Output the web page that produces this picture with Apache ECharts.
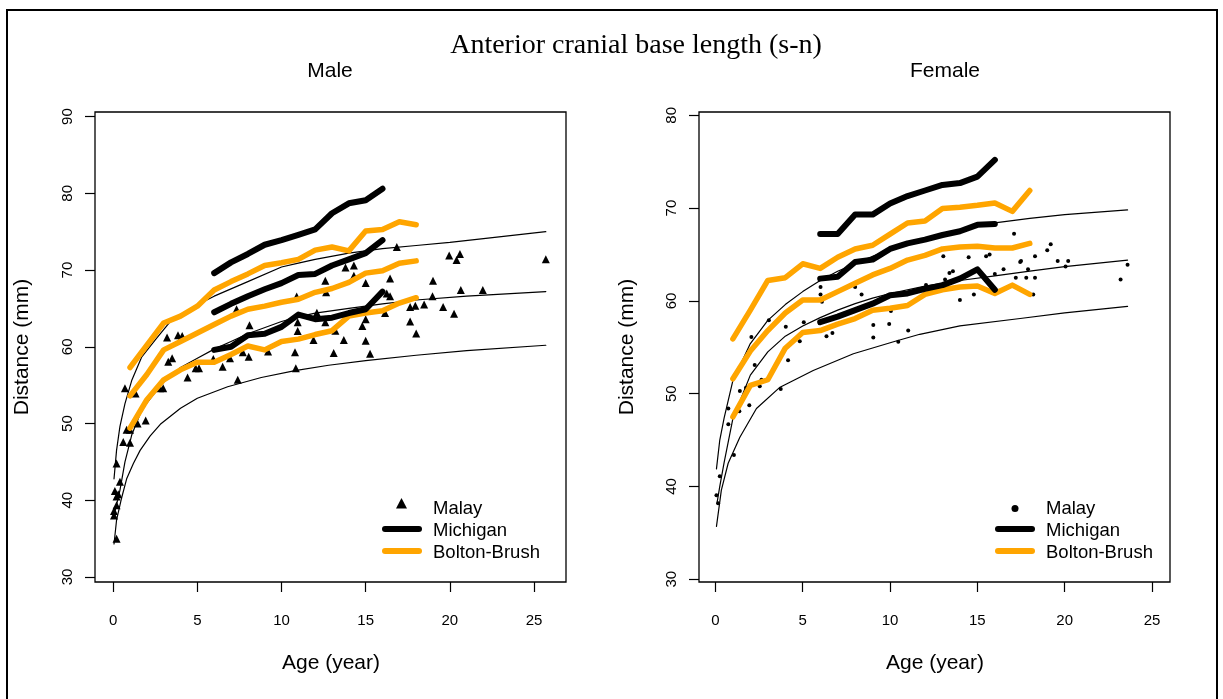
<!DOCTYPE html>
<html>
<head>
<meta charset="utf-8">
<script src="https://cdn.jsdelivr.net/npm/echarts@6/dist/echarts.min.js"></script>
<style>
html, body { margin: 0; padding: 0; background: #fff; }
#main { width: 1223px; height: 699px; }
</style>
</head>
<body>
<div id="main"></div>
<script>
// ---- data ----
var tickX = [0, 5, 10, 15, 20, 25];
var tickYMale = [30, 40, 50, 60, 70, 80, 90];
var tickYFemale = [30, 40, 50, 60, 70, 80];

var michAges = [6, 7, 8, 9, 10, 11, 12, 13, 14, 15, 16];
var boltonAges = [1, 2, 3, 4, 5, 6, 7, 8, 9, 10, 11, 12, 13, 14, 15, 16, 17, 18];

// male
var maleMichHigh = [69.6, 71.0, 72.1, 73.3, 73.9, 74.6, 75.3, 77.4, 78.7, 79.1, 80.6];
var maleMichMid  = [64.5, 65.6, 66.6, 67.5, 68.3, 69.35, 69.5, 70.6, 71.4, 72.2, 73.9];
var maleMichLow  = [59.6, 60.0, 61.5, 61.7, 62.6, 64.2, 63.6, 63.8, 64.4, 64.9, 67.2];
var maleBoltonHigh = [57.3, 60.2, 63.1, 64.0, 65.3, 67.4, 68.5, 69.5, 70.6, 70.95, 71.4, 72.6, 73.0, 72.5, 75.1, 75.3, 76.3, 75.9];
var maleBoltonMid  = [53.6, 56.4, 59.6, 60.7, 61.8, 62.9, 64.0, 64.9, 65.3, 65.8, 66.2, 67.1, 67.6, 68.4, 69.6, 69.9, 70.9, 71.2];
var maleBoltonLow  = [49.4, 53.1, 55.7, 57.0, 58.0, 58.0, 59.0, 60.1, 59.6, 60.7, 61.0, 61.6, 62.1, 64.0, 64.4, 64.7, 65.7, 66.4];

var maleFitTopAge = [0.05, 0.2, 0.4, 0.7, 1.1, 1.7, 2.5, 3.4, 5, 6, 8, 10, 11, 12, 14, 16, 18, 20, 22, 25.7];
var maleFitTop    = [42.8, 46.5, 49.6, 52.6, 55.6, 58.7, 60.9, 63.3, 65.5, 66.6, 68.5, 70.4, 70.9, 71.4, 72.2, 72.8, 73.2, 73.6, 74.1, 75.0];
var maleFitMidAge = [0.05, 0.4, 0.7, 1.1, 1.7, 2.9, 4, 5, 6, 7, 8, 10, 11, 12, 14, 16, 18, 21, 25.7];
var maleFitMid    = [38.0, 41.3, 45.0, 48.5, 51.8, 55.2, 57.3, 58.5, 59.7, 60.7, 61.7, 63.3, 63.9, 64.4, 65.0, 65.6, 66.1, 66.6, 67.2];
var maleFitLowAge = [0.05, 0.2, 0.5, 0.8, 1.2, 1.6, 2.2, 2.8, 4, 5, 6.8, 8.8, 10.8, 12.8, 15, 18, 21, 25.7];
var maleFitLow    = [34.3, 37.4, 40.3, 42.8, 44.8, 46.5, 48.4, 49.9, 52.0, 53.3, 54.8, 56.0, 56.9, 57.6, 58.2, 58.9, 59.5, 60.2];

var maleMalayAge = [0.05, 0.05, 0.1, 0.3, 0.2, 0.2, 0.2, 0.4, 0.2, 0.6, 1.0, 0.8, 1.0, 0.7, 1.33, 1.45, 1.93, 2.78, 2.97,
  3.27, 3.5, 3.2, 3.85, 4.1, 4.42, 4.9, 5.1, 5.95, 6.5, 6.94, 7.4, 7.7, 8.05, 7.33, 8.1, 9.2, 10.8, 10.85, 10.9, 10.96,
  10.96, 11.9, 12.1, 12.6, 12.65, 12.6, 13.2, 13.1, 13.7, 13.8, 14.3, 14.3, 16.85, 15.0, 16.45, 16.25, 16.45, 15.0, 14.8,
  15.0, 15.26, 16.15, 17.64, 18.0, 17.64, 17.95, 18.47, 18.97, 19.0, 19.6, 20.25, 19.96, 20.4, 20.6, 20.65, 21.96, 25.7];
var maleMalayDist = [38.6, 38.0, 41.2, 40.8, 40.5, 39.35, 44.8, 42.4, 35.0, 47.6, 47.5, 49.2, 49.2, 54.6, 53.9, 50.0, 50.4, 54.6, 54.6,
  58.05, 58.5, 61.2, 61.5, 61.4, 56.0, 57.2, 57.2, 58.4, 57.4, 58.5, 55.7, 59.3, 58.7, 64.9, 62.8, 59.4, 59.3, 57.2, 66.55, 63.2,
  62.05, 60.9, 64.45, 63.2, 67.1, 68.6, 62.1, 59.2, 60.9, 70.35, 70.6, 69.25, 73.0, 68.3, 68.9, 66.95, 66.6, 63.6, 62.7,
  60.8, 59.1, 64.4, 63.3, 61.75, 65.2, 65.35, 65.5, 66.6, 68.6, 65.2, 64.3, 71.9, 71.3, 72.1, 67.4, 67.4, 71.4];

// female
var femMichHigh = [67.2, 67.2, 69.3, 69.3, 70.5, 71.3, 71.9, 72.5, 72.7, 73.4, 75.2];
var femMichMid  = [62.4, 62.6, 64.2, 64.45, 65.6, 66.2, 66.6, 67.1, 67.5, 68.2, 68.3];
var femMichLow  = [57.7, 58.3, 59.0, 59.7, 60.6, 60.8, 61.3, 61.7, 62.4, 63.4, 61.2];
var femBoltonHigh = [55.9, 59.0, 62.2, 62.5, 64.0, 63.5, 64.7, 65.6, 66.0, 67.2, 68.4, 68.6, 69.95, 70.1, 70.3, 70.55, 69.65, 71.9];
var femBoltonMid  = [51.6, 54.6, 56.8, 58.7, 60.1, 60.1, 61.0, 61.9, 62.8, 63.5, 64.4, 64.9, 65.6, 65.8, 65.9, 65.7, 65.7, 66.2];
var femBoltonLow  = [47.5, 50.9, 51.5, 54.9, 56.6, 56.8, 57.5, 58.1, 59.0, 59.2, 59.5, 60.7, 61.2, 61.5, 61.6, 60.8, 61.7, 60.7];

var femFitTopAge = [0.06, 0.25, 0.5, 1, 2, 3, 4, 5, 6, 7, 8, 9, 10, 11, 12, 14, 16, 18, 20, 23.6];
var femFitTop    = [41.9, 45.0, 47.4, 51.4, 55.4, 57.9, 59.6, 61.0, 62.2, 63.2, 64.0, 64.8, 65.5, 66.1, 66.7, 67.6, 68.4, 68.9, 69.3, 69.8];
var femFitMidAge = [0.1, 0.25, 0.5, 1, 2, 3, 4, 5, 6, 7, 8, 9, 10, 12, 14, 16, 18, 20, 23.6];
var femFitMid    = [38.3, 40.0, 42.6, 47.3, 52.0, 54.5, 56.2, 57.3, 58.2, 59.0, 59.7, 60.3, 60.8, 61.6, 62.2, 62.7, 63.2, 63.7, 64.4];
var femFitLowAge = [0.06, 0.34, 0.73, 1.4, 2.35, 3.7, 5.6, 7.9, 10.2, 11.7, 14, 17.45, 20, 23.6];
var femFitLow    = [35.7, 39.6, 42.5, 45.3, 48.4, 50.7, 52.5, 54.3, 55.6, 56.4, 57.3, 58.1, 58.7, 59.4];

var femMalayAge = [0.06, 0.15, 0.25, 0.74, 0.74, 1.06, 1.4, 1.37, 1.75, 1.94, 2.25, 2.54, 2.64, 3.74, 4.16, 4.83, 10.47,
  2.06, 3.06, 4.03, 5.06, 6.02, 6.02, 6.1, 6.36, 6.7, 8.0, 8.37, 9.04, 9.04, 9.95, 10.05, 11.04, 12.06, 13.05, 13.15,
  13.4, 13.6, 14.0, 14.5, 14.8, 15.5, 15.7, 16.0, 16.5, 17.1, 17.2, 17.45, 17.5, 17.8, 17.9, 18.3, 18.3, 18.2, 19.0,
  19.2, 19.6, 20.05, 20.2, 23.2, 23.6];
var femMalayDist = [39.05, 38.2, 41.1, 48.4, 46.7, 43.4, 50.3, 48.1, 50.65, 48.75, 53.1, 50.8, 51.5, 50.5, 53.6, 55.65, 55.6,
  56.1, 57.9, 57.2, 57.7, 61.5, 60.7, 59.9, 56.2, 56.55, 61.5, 60.7, 57.4, 56.05, 57.5, 58.9, 56.8, 61.7, 64.8, 62.3,
  63.0, 63.2, 60.1, 64.7, 60.7, 64.8, 65.0, 62.9, 63.4, 67.25, 62.5, 64.2, 64.3, 62.5, 63.4, 64.8, 62.5, 60.7, 65.45,
  66.1, 64.3, 63.7, 64.3, 62.3, 63.9];

// ---- chart ----
var SANS = '"Liberation Sans", Arial, Helvetica, sans-serif';
var ORANGE = '#FFA500';

function pairs(xs, ys) {
    return xs.map(function (x, i) { return [x, ys[i]]; });
}

function lineSeries(name, idx, xs, ys, color, width, z) {
    return {
        name: name, type: 'line', xAxisIndex: idx, yAxisIndex: idx,
        data: pairs(xs, ys), symbol: 'none', silent: true, z: z,
        lineStyle: { color: color, width: width, cap: 'round', join: 'round', opacity: 1 }
    };
}

function xAxisFor(idx, min, max) {
    return {
        gridIndex: idx, type: 'value', min: min, max: max,
        splitLine: { show: false },
        axisLine: { show: false, onZero: false },
        axisTick: { show: true, customValues: tickX, length: 10, lineStyle: { color: '#000', width: 1.2 } },
        axisLabel: { customValues: tickX, margin: 31, color: '#000', fontSize: 15, fontFamily: SANS }
    };
}

function yAxisFor(idx, min, max, ticks) {
    return {
        gridIndex: idx, type: 'value', min: min, max: max,
        splitLine: { show: false },
        axisLine: { show: false, onZero: false },
        axisTick: { show: true, customValues: ticks, length: 10, lineStyle: { color: '#000', width: 1.2 } },
        axisLabel: { customValues: ticks, rotate: 90, margin: 20, color: '#000', fontSize: 15, fontFamily: SANS }
    };
}

function txt(text, x, y, size, opts) {
    opts = opts || {};
    return {
        type: 'text', x: x, y: y, rotation: opts.rotation || 0, z: 100,
        style: {
            text: text, fill: '#000', font: size + 'px ' + (opts.family || SANS),
            align: opts.align || 'center', verticalAlign: 'middle'
        }
    };
}

function legendGraphics(x0, markerType) {
    var g = [];
    if (markerType === 'triangle') {
        g.push({ type: 'polygon', z: 100, shape: { points: [[x0 + 16.5, 498], [x0 + 11, 508.5], [x0 + 22, 508.5]] }, style: { fill: '#000' } });
    } else {
        g.push({ type: 'circle', z: 100, shape: { cx: x0 + 17, cy: 508.5, r: 3.5 }, style: { fill: '#000' } });
    }
    g.push({ type: 'line', z: 100, shape: { x1: x0, y1: 529, x2: x0 + 34, y2: 529 }, style: { stroke: '#000', lineWidth: 6, lineCap: 'round' } });
    g.push({ type: 'line', z: 100, shape: { x1: x0, y1: 551, x2: x0 + 34, y2: 551 }, style: { stroke: ORANGE, lineWidth: 6, lineCap: 'round' } });
    g.push(txt('Malay', x0 + 48, 509, 18.5, { align: 'left' }));
    g.push(txt('Michigan', x0 + 48, 531, 18.5, { align: 'left' }));
    g.push(txt('Bolton-Brush', x0 + 48, 553, 18.5, { align: 'left' }));
    return g;
}

var series = [];
[0, 1].forEach(function (i) {
    var m = i === 0;
    series.push(lineSeries('fit', i, m ? maleFitTopAge : femFitTopAge, m ? maleFitTop : femFitTop, '#000', 1.2, 2));
    series.push(lineSeries('fit', i, m ? maleFitMidAge : femFitMidAge, m ? maleFitMid : femFitMid, '#000', 1.2, 2));
    series.push(lineSeries('fit', i, m ? maleFitLowAge : femFitLowAge, m ? maleFitLow : femFitLow, '#000', 1.2, 2));
    series.push({
        name: 'Malay', type: 'scatter', xAxisIndex: i, yAxisIndex: i, silent: true, z: 3,
        data: m ? pairs(maleMalayAge, maleMalayDist) : pairs(femMalayAge, femMalayDist),
        symbol: m ? 'triangle' : 'circle', symbolSize: m ? 8 : 4,
        itemStyle: { color: '#000', opacity: 1 }
    });
    series.push(lineSeries('Bolton-Brush', i, boltonAges, m ? maleBoltonHigh : femBoltonHigh, ORANGE, 5.5, 4));
    series.push(lineSeries('Bolton-Brush', i, boltonAges, m ? maleBoltonMid : femBoltonMid, ORANGE, 5.5, 4));
    series.push(lineSeries('Bolton-Brush', i, boltonAges, m ? maleBoltonLow : femBoltonLow, ORANGE, 5.5, 4));
    series.push(lineSeries('Michigan', i, michAges, m ? maleMichHigh : femMichHigh, '#000', 6, 5));
    series.push(lineSeries('Michigan', i, michAges, m ? maleMichMid : femMichMid, '#000', 6, 5));
    series.push(lineSeries('Michigan', i, michAges, m ? maleMichLow : femMichLow, '#000', 6, 5));
});

var graphics = [
    { type: 'rect', z: 100, shape: { x: 7, y: 10, width: 1210, height: 692 }, style: { fill: null, stroke: '#000', lineWidth: 2 } },
    txt('Anterior cranial base length (s-n)', 636, 46, 28, { family: '"Liberation Serif", "Times New Roman", serif' }),
    txt('Male', 330, 71, 21),
    txt('Female', 945, 71, 21),
    txt('Age (year)', 331, 663, 21),
    txt('Age (year)', 935, 663, 21),
    txt('Distance (mm)', 22, 347, 21, { rotation: Math.PI / 2 }),
    txt('Distance (mm)', 627, 347, 21, { rotation: Math.PI / 2 })
].concat(legendGraphics(385, 'triangle'), legendGraphics(998, 'circle'));

var myChart = echarts.init(document.getElementById('main'), null, { renderer: 'canvas' });
var option = {
    animation: false,
    backgroundColor: '#fff',
    grid: [
        { left: 95, top: 112, width: 471, height: 470, show: true, borderColor: '#000', borderWidth: 1.3 },
        { left: 699, top: 112, width: 471, height: 470, show: true, borderColor: '#000', borderWidth: 1.3 }
    ],
    xAxis: [xAxisFor(0, -1.08, 26.9), xAxisFor(1, -0.94, 26.03)],
    yAxis: [yAxisFor(0, 29.35, 90.6, tickYMale), yAxisFor(1, 29.7, 80.36, tickYFemale)],
    series: series,
    graphic: graphics
};
myChart.setOption(option);
</script>
</body>
</html>
